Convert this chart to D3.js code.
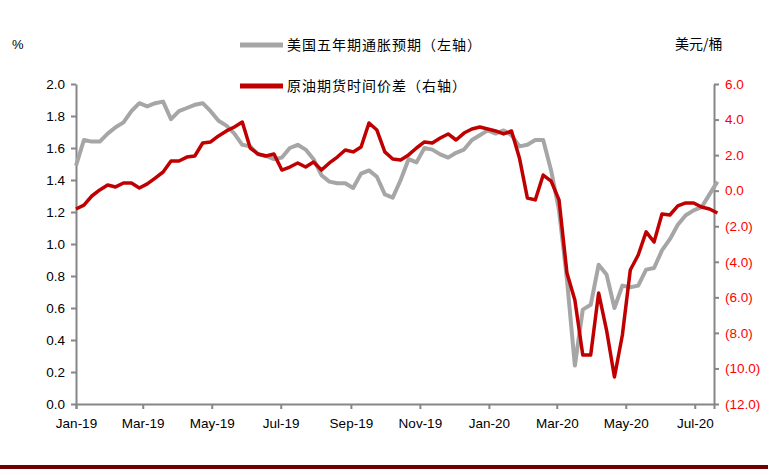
<!DOCTYPE html>
<html><head><meta charset="utf-8">
<script src="https://cdn.jsdelivr.net/npm/d3@7"></script>
<style>body{margin:0;background:#fff}text{font-family:"Liberation Sans",Arial,sans-serif}</style>
</head><body><svg id="c" width="780" height="471"></svg>
<script>
const startDate = "2019-01-01";
const stepDays = 7;
const inflation = [1.49,1.65,1.64,1.64,1.69,1.73,1.76,1.83,1.88,1.86,1.88,1.89,1.78,1.83,1.85,1.87,1.88,1.83,1.77,1.74,1.69,1.62,1.61,1.56,1.55,1.53,1.54,1.60,1.62,1.59,1.53,1.43,1.39,1.38,1.38,1.35,1.44,1.46,1.42,1.31,1.29,1.40,1.53,1.51,1.60,1.59,1.56,1.54,1.57,1.59,1.65,1.68,1.71,1.69,1.71,1.68,1.61,1.62,1.65,1.65,1.46,1.21,0.78,0.24,0.59,0.62,0.87,0.81,0.60,0.74,0.73,0.74,0.84,0.85,0.96,1.03,1.12,1.18,1.21,1.23,1.31,1.39];
const spread = [-1.03,-0.81,-0.30,0.04,0.32,0.21,0.43,0.43,0.15,0.38,0.71,1.05,1.67,1.67,1.89,1.95,2.68,2.74,3.08,3.36,3.58,3.86,2.40,2.06,1.95,2.06,1.16,1.33,1.56,1.33,1.61,1.16,1.56,1.89,2.29,2.18,2.46,3.81,3.41,2.18,1.78,1.73,2.01,2.40,2.74,2.68,2.96,3.19,2.85,3.24,3.47,3.58,3.47,3.36,3.19,3.36,1.84,-0.41,-0.52,0.88,0.54,-0.52,-4.63,-6.15,-9.24,-9.24,-5.75,-7.84,-10.48,-8.12,-4.46,-3.62,-2.32,-2.89,-1.31,-1.37,-0.86,-0.69,-0.69,-0.92,-1.03,-1.26];
const leftTicks = [0,0.2,0.4,0.6,0.8,1.0,1.2,1.4,1.6,1.8,2.0];
const rightTicks = [-12,-10,-8,-6,-4,-2,0,2,4,6];
const seriesNames = ["美国五年期通胀预期（左轴）","原油期货时间价差（右轴）"];

const svg = d3.select("#c");
const d0 = new Date(startDate);
const dates = inflation.map((_, i) => d3.timeDay.offset(d0, i*stepDays));
const x = d3.scaleTime().domain([d0, new Date("2020-07-18")]).range([76, 714]);
const yL = d3.scaleLinear().domain([0,2]).range([404,84]);
const yR = d3.scaleLinear().domain([-12,6]).range([404,84]);
const axisCol = "#868686";

const xa = svg.append("g").attr("transform","translate(0,404)")
  .call(d3.axisBottom(x).ticks(d3.timeMonth.every(2)).tickFormat(d3.timeFormat("%b-%y")).tickSizeOuter(0).tickSize(5).tickPadding(9));
const ya = svg.append("g").attr("transform","translate(76,0)")
  .call(d3.axisLeft(yL).tickValues(leftTicks).tickFormat(d3.format(".1f")).tickSize(5).tickSizeOuter(0).tickPadding(6));
const yr = svg.append("g").attr("transform","translate(714,0)")
  .call(d3.axisRight(yR).tickValues(rightTicks).tickFormat(v => v<0 ? "("+d3.format(".1f")(-v)+")" : d3.format(".1f")(v)).tickSize(5).tickSizeOuter(0).tickPadding(6));
[xa,ya,yr].forEach(g => { g.selectAll("path,line").attr("stroke",axisCol).attr("stroke-width",2); g.selectAll("text").attr("font-size",13.5).attr("fill","#000"); });
yr.selectAll("text").attr("fill","#ff0000");

const lineL = d3.line().x((d,i)=>x(dates[i])).y(d=>yL(d));
const lineR = d3.line().x((d,i)=>x(dates[i])).y(d=>yR(d));
svg.append("path").datum(inflation).attr("d",lineL).attr("fill","none").attr("stroke","#a6a6a6").attr("stroke-width",4).attr("stroke-linejoin","round");
svg.append("path").datum(spread).attr("d",lineR).attr("fill","none").attr("stroke","#c00000").attr("stroke-width",3.5).attr("stroke-linejoin","round");

svg.append("text").attr("x",12).attr("y",49).attr("font-size",13).text("%");
svg.append("text").attr("x",675).attr("y",49).attr("font-size",14).style("font-family","Noto Sans CJK SC").text("美元/桶");

const leg = [{c:"#a6a6a6",y:45},{c:"#c00000",y:86}];
leg.forEach((l,i)=>{
  svg.append("line").attr("x1",240).attr("x2",283).attr("y1",l.y).attr("y2",l.y).attr("stroke",l.c).attr("stroke-width",5);
  svg.append("text").attr("x",287).attr("y",l.y+5).attr("font-size",14).style("font-family","Noto Sans CJK SC").style("letter-spacing","1px").text(seriesNames[i]);
});

svg.append("rect").attr("x",0).attr("y",465).attr("width",768).attr("height",4).attr("fill","#700000");
</script></body></html>
